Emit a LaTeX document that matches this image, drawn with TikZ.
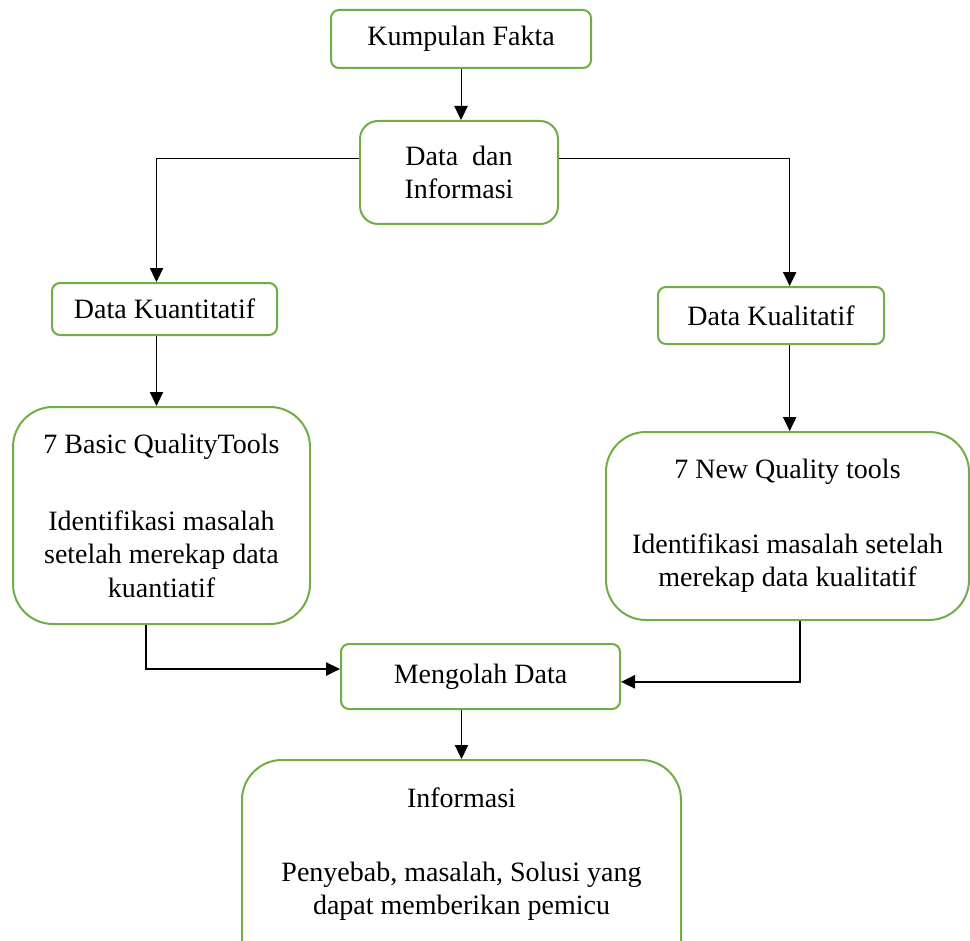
\documentclass[tikz,border=0pt]{standalone}
\usepackage{fontspec}
\setmainfont{Liberation Serif}
\usepackage{xcolor}
\usepackage{tikz}
\usetikzlibrary{arrows.meta,positioning}

\definecolor{boxgreen}{RGB}{112,173,71}

\begin{document}
\begin{tikzpicture}[
  x=0.75pt, y=-0.75pt,
  box/.style={rectangle, rounded corners=6pt, draw=boxgreen, line width=1.5pt, fill=white,
              align=center, inner sep=2pt, font=\fontsize{21}{25}\selectfont},
  bigbox/.style={box, rounded corners=30pt},
  arrow/.style={-{Triangle[length=10.5pt,width=10pt]}, line width=0.75pt},
  elbow/.style={arrow, line width=1.1pt},
]
\useasboundingbox (0,0) rectangle (970,941);

%% --- top: collecting facts ---
\node[box, minimum width=195pt, minimum height=43.5pt] (fakta) at (461,39) {Kumpulan Fakta};
\node[box, rounded corners=13.5pt, minimum width=148.5pt, minimum height=77.25pt] (datainfo) at (459,172.5)
  {Data\ \ dan\\Informasi};

%% --- two kinds of data ---
\node[box, minimum width=168.75pt, minimum height=39pt] (kuan) at (164.5,309) {Data Kuantitatif};
\node[box, minimum width=169.5pt, minimum height=42.75pt] (kual) at (771,315.5) {Data Kualitatif};

%% --- quality tools ---
\node[bigbox, minimum width=222.75pt, minimum height=162.75pt] (basic) at (161.5,515.5)
  {7 Basic QualityTools\\[33pt]Identifikasi masalah\\setelah merekap data\\kuantiatif};
\node[bigbox, minimum width=272.25pt, minimum height=141pt] (newtools) at (787.5,526)
  {7 New Quality tools\\[31pt]Identifikasi masalah setelah\\merekap data kualitatif};

%% --- processing and result ---
\node[box, minimum width=209.25pt, minimum height=48.75pt] (olah) at (480.5,676.5) {Mengolah Data};
\node[bigbox, minimum width=329.25pt, minimum height=180pt] (info) at (461.5,880)
  {Informasi\\[30pt]Penyebab, masalah, Solusi yang\\dapat memberikan pemicu\\[18pt]};

%% --- connectors ---
\draw[arrow] (fakta.south) -- (fakta.south |- datainfo.north);
\draw[arrow] ([yshift=10.5pt]datainfo.west) -| ([xshift=-6pt]kuan.north);
\draw[arrow] ([yshift=10.5pt]datainfo.east) -| ([xshift=14pt]kual.north);
\draw[arrow] ([xshift=-6pt]kuan.south) -- ([xshift=-6pt]kuan.south |- basic.north);
\draw[arrow] ([xshift=14pt]kual.south) -- ([xshift=14pt]kual.south |- newtools.north);
\draw[elbow] ([xshift=-11.6pt]basic.south) |- ([yshift=5.6pt]olah.west);
\draw[elbow] ([xshift=9.4pt]newtools.south) |- ([yshift=-4pt]olah.east);
\draw[arrow] (olah.south -| info.north) -- (info.north);

\end{tikzpicture}
\end{document}
